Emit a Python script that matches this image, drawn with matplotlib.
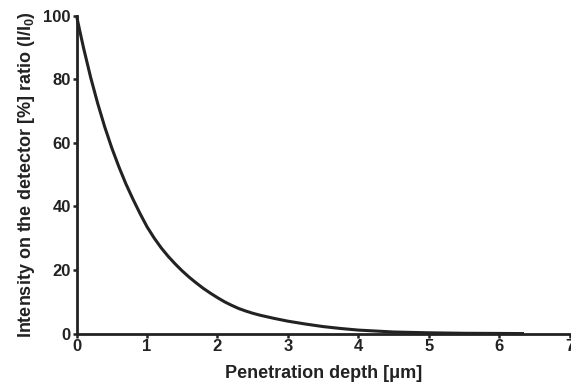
import numpy as np
import matplotlib.pyplot as plt

# depth [um] and relative detector intensity [%]
depth = [0.0, 0.05, 0.1, 0.2, 0.3, 0.4, 0.5, 0.6, 0.7, 0.8, 0.9, 1.0,
         1.1, 1.2, 1.3, 1.4, 1.5, 1.6, 1.7, 1.8, 1.9, 2.0, 2.1, 2.2, 2.3,
         2.4, 2.5, 2.6, 2.8, 3.0, 3.25, 3.5, 3.75, 4.0, 4.25, 4.5, 5.0,
         5.5, 6.0, 6.35]
intensity = [100.0, 94.8, 89.8, 80.6, 72.4, 65.0, 58.4, 52.5, 47.1, 42.3,
             37.8, 33.6, 30.1, 27.0, 24.3, 21.9, 19.7, 17.7, 15.9, 14.2,
             12.7, 11.3, 10.0, 8.9, 7.9, 7.1, 6.4, 5.8, 4.8, 3.9, 3.0,
             2.2, 1.6, 1.1, 0.8, 0.5, 0.25, 0.1, 0.05, 0.0]

xticks = [0, 1, 2, 3, 4, 5, 6, 7]
yticks = [0, 20, 40, 60, 80, 100]

ink = '#222222'
plt.rcParams['font.family'] = 'Liberation Sans'
plt.rcParams['font.weight'] = 'bold'
plt.rcParams['mathtext.fontset'] = 'custom'
plt.rcParams['mathtext.rm'] = 'Liberation Sans:bold'
plt.rcParams['mathtext.default'] = 'regular'

fig = plt.figure(figsize=(5.71, 3.83), dpi=100)
ax = fig.add_axes([0.134, 0.129, 0.864, 0.8305])

ax.plot(depth, intensity, color=ink, lw=2.2, solid_joinstyle='round',
        solid_capstyle='butt', clip_on=False)

ax.set_xlim(0, 7)
ax.set_ylim(0, 100)
ax.set_xticks(xticks)
ax.set_yticks(yticks)

for side in ('top', 'right'):
    ax.spines[side].set_visible(False)
for side in ('left', 'bottom'):
    ax.spines[side].set_linewidth(2.0)
    ax.spines[side].set_color(ink)
# bottom axis line runs on to the right edge of the figure
ax.spines['bottom'].set_bounds(0, 7.05)

ax.tick_params(direction='out', length=3, width=1.8, color=ink,
               labelsize=12, labelcolor=ink, pad=1)
for lbl in ax.get_xticklabels() + ax.get_yticklabels():
    lbl.set_fontweight('bold')

ax.set_xlabel('Penetration depth [μm]', fontsize=13, fontweight='bold',
              color=ink, labelpad=8)
ax.set_ylabel('Intensity on the detector [%] ratio (I/I$_0$)', fontsize=13,
              fontweight='bold', color=ink, labelpad=5)

fig.savefig('out.png', dpi=100)
